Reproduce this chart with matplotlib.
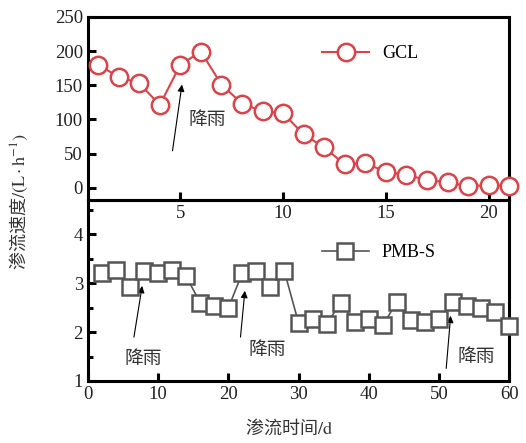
import numpy as np
import matplotlib
matplotlib.use("Agg")
import matplotlib.pyplot as plt
from matplotlib.ticker import MultipleLocator

plt.rcParams['font.family'] = ['Liberation Serif', 'Noto Sans CJK SC']
plt.rcParams['mathtext.fontset'] = 'stix'

# GCL, days 1..21
gcl_x = np.arange(1, 22)
gcl_y = [180, 162, 153, 121, 180, 199, 151, 123, 112, 109, 78, 59, 34, 36,
         23, 19, 11, 8, 2, 4, 2]

# PMB-S, days 2..60
pmb_x = np.arange(2, 61, 2)
pmb_y = [3.21, 3.26, 2.92, 3.24, 3.20, 3.26, 3.14, 2.60, 2.53, 2.49,
         3.21, 3.24, 2.92, 3.24, 2.19, 2.26, 2.16, 2.60, 2.21, 2.26,
         2.14, 2.61, 2.24, 2.21, 2.26, 2.61, 2.53, 2.50, 2.41, 2.12]

red = '#d9434a'
grey = '#555555'
cjk = ['Noto Sans CJK SC', 'DejaVu Sans']

fig = plt.figure(figsize=(5.26, 4.43), dpi=100)
ax2 = fig.add_axes([0.167, 0.140, 0.801, 0.4085])
ax1 = fig.add_axes([0.167, 0.5485, 0.801, 0.4135])
ax1.patch.set_visible(False)

ax1.plot(gcl_x, gcl_y, '-o', color=red, mfc='white', mec=red, ms=12.5,
         mew=1.8, lw=1.5, label='GCL', clip_on=False, zorder=5)
ax1.set_xlim(0.5, 21)
ax1.set_ylim(-18, 250)
ax1.set_xticks([5, 10, 15, 20])
ax1.set_yticks([0, 50, 100, 150, 200, 250])
ax1.legend(loc='center', bbox_to_anchor=(0.67, 0.80), frameon=False,
           fontsize=13, handlelength=2.6, handletextpad=0.7)
ax1.annotate('', xy=(5.1, 155), xytext=(4.6, 50),
             arrowprops=dict(arrowstyle='-|>', color='black', lw=0.8,
                             mutation_scale=10))
ax1.text(6.3, 100, '降雨', family=cjk, fontsize=13.5, ha='center', va='center',
         color='#333333')

ax2.plot(pmb_x, pmb_y, '-s', color=grey, mfc='white', mec=grey, ms=12,
         mew=1.8, lw=1.2, label='PMB-S', clip_on=False, zorder=5)
ax2.set_xlim(0, 60)
ax2.set_ylim(1, 4.7)
ax2.set_xticks([0, 10, 20, 30, 40, 50, 60])
ax2.set_yticks([1, 2, 3, 4])
ax2.yaxis.set_minor_locator(MultipleLocator(0.5))
ax2.legend(loc='center', bbox_to_anchor=(0.69, 0.71), frameon=False,
           fontsize=13, handlelength=2.6, handletextpad=0.7)

arrows = [((7.8, 3.0), (6.5, 1.84), (7.9, 1.45)),
          ((22.4, 2.9), (21.7, 1.84), (25.6, 1.65)),
          ((51.7, 2.39), (51.0, 1.2), (55.3, 1.5))]
for head, tail, txt in arrows:
    ax2.annotate('', xy=head, xytext=tail,
                 arrowprops=dict(arrowstyle='-|>', color='black', lw=0.8,
                                 mutation_scale=10))
    ax2.text(txt[0], txt[1], '降雨', family=cjk, fontsize=13.5, ha='center',
             va='center', color='#333333')

for ax in (ax1, ax2):
    for s in ax.spines.values():
        s.set_linewidth(2.2)
    ax.tick_params(which='both', direction='in', labelsize=13.5, width=2.2,
                   colors='black', labelcolor='#222222')
    ax.tick_params(which='major', length=6)
    ax.tick_params(which='minor', length=3.5)
    ax.tick_params(axis='x', which='both', top=False)
    ax.tick_params(axis='y', which='both', right=False)

fig.text(0.036, 0.546, '渗流速度$\\mathrm{/(L\\cdot h^{-1})}$', rotation=90,
         ha='center', va='center', fontsize=13, family=cjk, color='#333333')
fig.text(0.55, 0.034, '渗流时间$\\mathrm{/d}$', ha='center', va='center',
         fontsize=13, family=cjk, color='#333333')

fig.savefig('out.png', dpi=100)
